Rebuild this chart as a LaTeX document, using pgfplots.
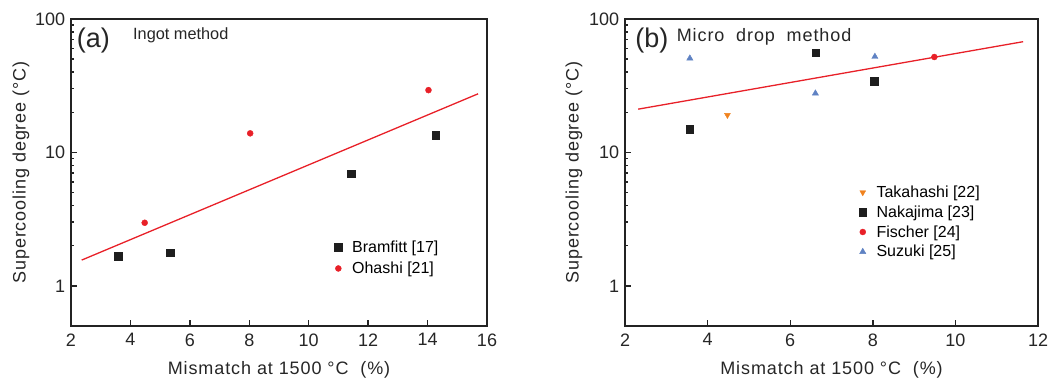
\documentclass[border=0pt]{standalone}
\usepackage{pgfplots}
\pgfplotsset{compat=1.18}
\usepackage{fontspec}
\setmainfont{Liberation Sans}
\newfontfamily\labfont[LetterSpace=5]{Liberation Sans}
\definecolor{myred}{RGB}{232,32,40}
\definecolor{myblue}{RGB}{95,130,195}
\definecolor{myorange}{RGB}{240,130,30}
\definecolor{myblack}{RGB}{30,30,30}
\definecolor{axcol}{RGB}{35,35,35}
\pgfplotsset{
  myaxis/.style={
    scale only axis,
    height=307pt,
    ymin=0.5, ymax=100,
    ytick={1,10,100},
    yticklabels={1,10,100},
    minor ytick={},
    tick align=inside,
    xtick pos=bottom, ytick pos=left,
    major tick length=6pt,
    axis line style={line width=1.6pt, color=axcol},
    every tick/.style={line width=1.4pt, color=axcol},
    /pgf/number format/assume math mode=true,
    tick label style={font=\fontsize{18}{21}\selectfont, color=black!85},
    yticklabel style={xshift=-2.3pt},
    xticklabel style={yshift=-4pt},
    every axis x label/.style={at={(axis description cs:0.5,-0.143)},anchor=center,
      font=\labfont\fontsize{18}{21}\selectfont, color=black!85},
    legend style={draw=none, fill=none, inner sep=0pt, font=\fontsize{16}{19}\selectfont,
      nodes={inner ysep=1.5pt}},
    legend cell align=left,
    xlabel={Mismatch at 1500 °C\ \ (\%)},
    ylabel={Supercooling degree (°C)},
  }
}
\begin{document}
\begin{tikzpicture}
\useasboundingbox (0,0) rectangle (1056pt,381pt);
% Panel (a)
\begin{semilogyaxis}[myaxis,
  at={(71pt,55pt)}, anchor=south west,
  width=416pt,
  xmin=2, xmax=16, xtick={2,4,...,16},
  every axis y label/.style={at={(axis description cs:-0.120,0.5)},rotate=90,anchor=center,
    font=\labfont\fontsize{18}{21}\selectfont, color=black!85},
  legend style={at={(axis description cs:0.633,0.283)}, anchor=north west, row sep=5pt,
    /tikz/every odd column/.append style={column sep=8pt}},
]
\addplot[only marks, mark=square*, mark size=3.8pt, color=myblack] coordinates {
 (3.58,1.67) (5.34,1.77) (11.43,6.92) (14.27,13.5)};
\addlegendentry{Bramfitt [17]}
\addplot[only marks, mark=*, mark size=3pt, color=myred] coordinates {
 (4.48,2.97) (8.03,13.9) (14.03,29.3)};
\addlegendentry{Ohashi [21]}
\addplot[myred, line width=1.3pt, forget plot] coordinates {(2.36,1.56) (15.70,27.5)};
\node[anchor=center, font=\fontsize{27}{30}\selectfont, color=black!85] at (axis description cs:0.054,0.930) {(a)};
\node[anchor=west, inner sep=0pt, font=\fontsize{16.3}{19}\selectfont, color=black!85] at (axis description cs:0.149,0.9456) {Ingot method};
\end{semilogyaxis}
% Panel (b)
\begin{semilogyaxis}[myaxis,
  at={(625pt,55pt)}, anchor=south west,
  width=413pt,
  xmin=2, xmax=12, xtick={2,4,...,12},
  every axis y label/.style={at={(axis description cs:-0.1235,0.5)},rotate=90,anchor=center,
    font=\labfont\fontsize{18}{21}\selectfont, color=black!85},
  legend style={at={(axis description cs:0.566,0.462)}, anchor=north west, row sep=3.7pt,
    /tikz/every odd column/.append style={column sep=8pt}},
]
\addplot[only marks, mark=triangle*, mark options={rotate=180}, mark size=3.4pt, color=myorange] coordinates {
 (4.48,19.05)};
\addlegendentry{Takahashi [22]}
\addplot[only marks, mark=square*, mark size=3.8pt, color=myblack] coordinates {
 (3.57,15.0) (6.62,55.9) (8.04,34.3)};
\addlegendentry{Nakajima [23]}
\addplot[only marks, mark=*, mark size=3pt, color=myred] coordinates {
 (9.49,51.9)};
\addlegendentry{Fischer [24]}
\addplot[only marks, mark=triangle*, mark size=3.6pt, color=myblue] coordinates {
 (3.57,50.7) (6.61,27.7) (8.05,52.2)};
\addlegendentry{Suzuki [25]}
\addplot[myred, line width=1.3pt, forget plot] coordinates {(2.32,21.1) (11.64,67.6)};
\node[anchor=center, font=\fontsize{27}{30}\selectfont, color=black!85] at (axis description cs:0.065,0.930) {(b)};
\node[anchor=west, inner sep=0pt, font=\labfont\fontsize{18}{21}\selectfont, color=black!85] at (axis description cs:0.125,0.942) {Micro\ \ drop\ \ method};
\end{semilogyaxis}
\end{tikzpicture}
\end{document}
